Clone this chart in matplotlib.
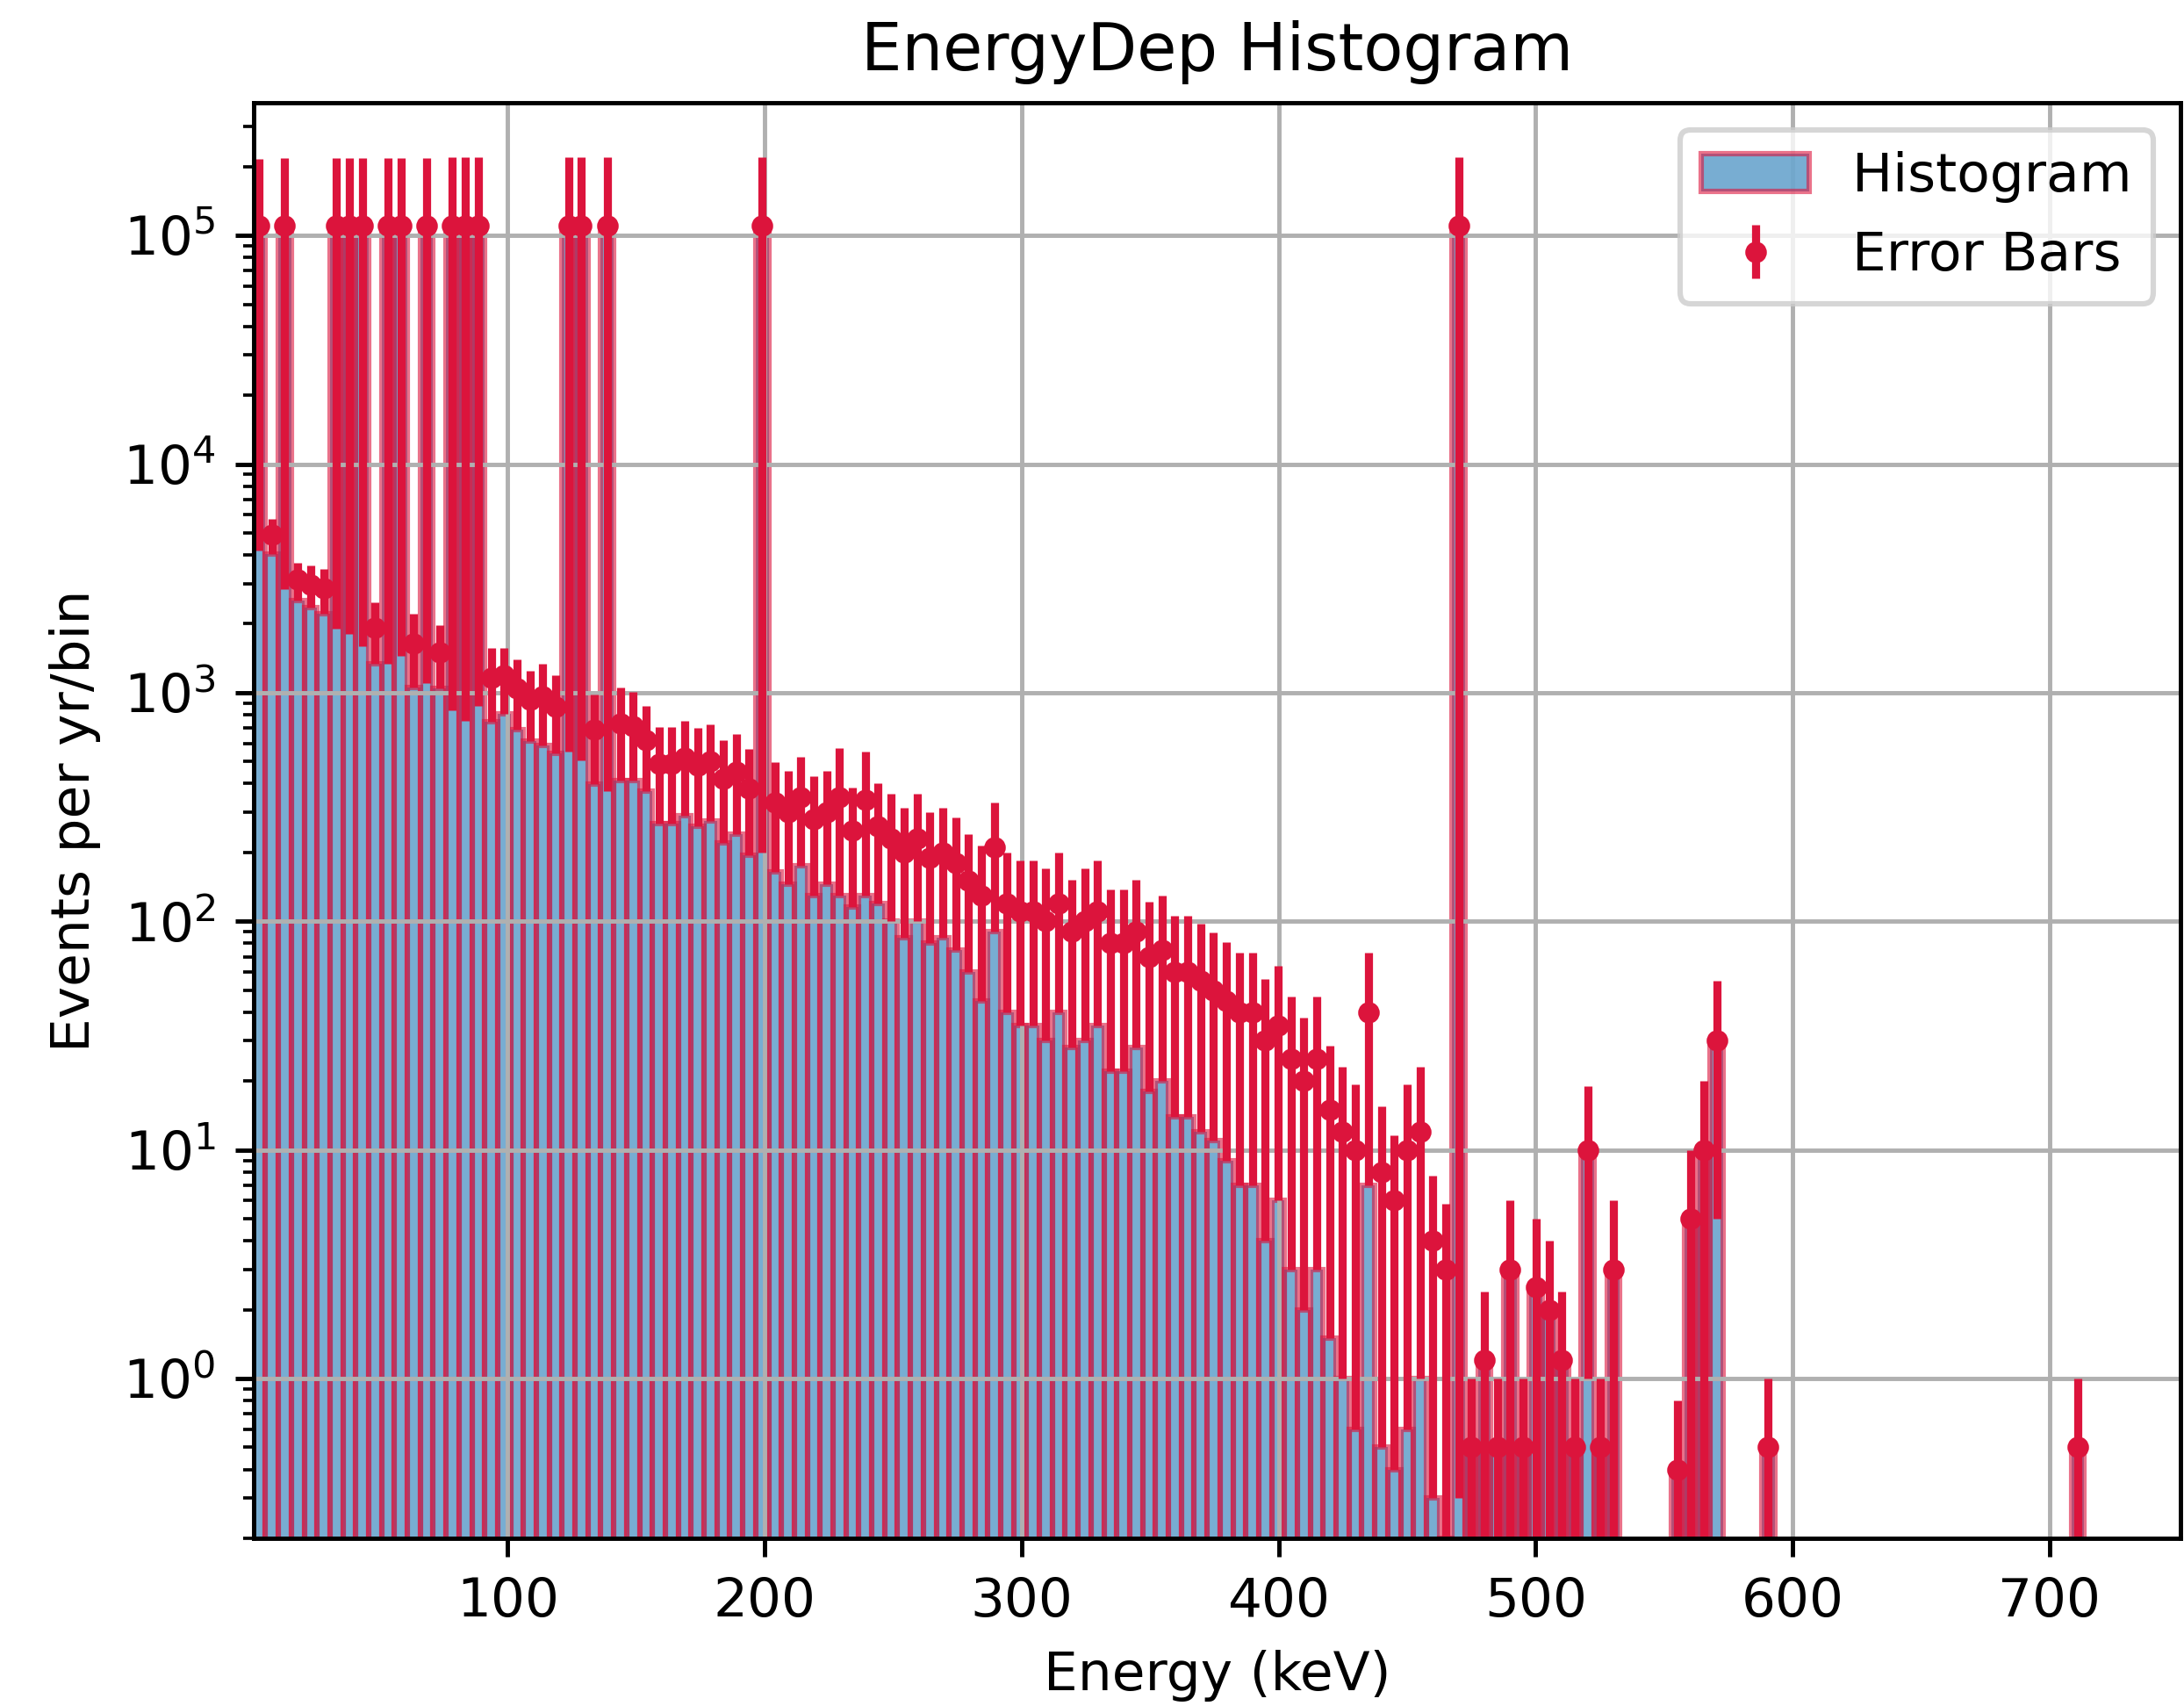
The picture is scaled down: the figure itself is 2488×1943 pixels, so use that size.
import matplotlib
matplotlib.use("Agg")
import matplotlib.pyplot as plt
import numpy as np

# binning (keV)
bin_start = 0.7
bin_width = 5.02
n_bins = 150

# peak bins (mono-energetic lines)
peak_bins = [0, 2, 6, 7, 8, 10, 11, 13, 15, 16, 17, 24, 25, 27, 39, 93]
peak_height = 1.1e5
peak_low = [4180, 2840, 1910, 1800, 1600, 1340, 1450, 1100, 836, 754, 873, 552, 506, 371, 200, 0.3]

# continuum: bar height, marker value, error (events per yr/bin)
bars = [0, 4050, 0, 2530, 2350, 2220, 0, 0, 0, 1340,
        0, 0, 1056, 0, 1040, 0, 0, 0, 743, 811,
        690, 613, 586, 545, 0, 0, 399, 0, 411, 411,
        371, 268, 268, 290, 260, 275, 220, 240, 195, 0,
        165, 145, 175, 130, 145, 130, 115, 130, 120, 100,
        85, 100, 80, 85, 75, 60, 45, 90, 40, 35,
        35, 30, 40, 28, 30, 35, 22, 22, 28, 18,
        20, 14, 14, 12, 11, 9, 7, 7, 4, 6,
        3, 2, 3, 1.5, 1, 0.6, 7, 0.5, 0.4, 0.6,
        1, 0.3, 0.2, 0, 0.5, 1.2, 0.5, 3, 0.5, 2.5,
        2, 1.2, 0.5, 10, 0.5, 3, 0, 0, 0, 0,
        0.4, 5, 10, 30, 0, 0, 0, 0.5, 0, 0,
        0, 0, 0, 0, 0, 0, 0, 0, 0, 0,
        0, 0, 0, 0, 0, 0, 0, 0, 0, 0,
        0, 0.5, 0, 0, 0, 0, 0, 0, 0, 0]
points = [0, 4910, 0, 3115, 2975, 2855, 0, 0, 0, 1915,
          0, 0, 1633, 0, 1505, 0, 0, 0, 1158, 1192,
          1045, 929, 963, 867, 0, 0, 690, 0, 734, 711,
          622, 489, 489, 520, 480, 500, 420, 450, 380, 0,
          330, 300, 350, 280, 300, 350, 250, 340, 260, 230,
          200, 230, 190, 200, 180, 150, 130, 210, 120, 110,
          110, 100, 120, 90, 100, 110, 80, 80, 90, 70,
          75, 60, 60, 55, 50, 45, 40, 40, 30, 35,
          25, 20, 25, 15, 12, 10, 40, 8, 6, 10,
          12, 4, 3, 0, 0.5, 1.2, 0.5, 3, 0.5, 2.5,
          2, 1.2, 0.5, 10, 0.5, 3, 0, 0, 0, 0,
          0.4, 5, 10, 30, 0, 0, 0, 0.5, 0, 0,
          0, 0, 0, 0, 0, 0, 0, 0, 0, 0,
          0, 0, 0, 0, 0, 0, 0, 0, 0, 0,
          0, 0.5, 0, 0, 0, 0, 0, 0, 0, 0]
errs = [0, 860, 0, 585, 625, 635, 0, 0, 0, 575,
        0, 0, 577, 0, 465, 0, 0, 0, 415, 381,
        355, 316, 377, 322, 0, 0, 291, 0, 323, 300,
        251, 221, 221, 230, 220, 225, 200, 210, 185, 0,
        165, 155, 175, 150, 155, 220, 135, 210, 140, 130,
        115, 130, 110, 115, 105, 90, 85, 120, 80, 75,
        75, 70, 80, 62, 70, 75, 58, 58, 62, 52,
        55, 46, 46, 43, 39, 36, 33, 33, 26, 29,
        22, 18, 22, 13.5, 11, 9.4, 33, 7.5, 5.6, 9.4,
        11, 3.7, 2.8, 0, 0.5, 1.2, 0.5, 3, 0.5, 2.5,
        2, 1.2, 0.5, 9, 0.5, 3, 0, 0, 0, 0,
        0.4, 5, 10, 25, 0, 0, 0, 0.5, 0, 0,
        0, 0, 0, 0, 0, 0, 0, 0, 0, 0,
        0, 0, 0, 0, 0, 0, 0, 0, 0, 0,
        0, 0.5, 0, 0, 0, 0, 0, 0, 0, 0]

bars = np.array(bars, dtype=float)
points = np.array(points, dtype=float)
errs = np.array(errs, dtype=float)
for k, lo in zip(peak_bins, peak_low):
    bars[k] = peak_height
    points[k] = peak_height
    errs[k] = peak_height - lo

edges = bin_start + bin_width * np.arange(n_bins + 1)
centers = 0.5 * (edges[:-1] + edges[1:])
has = points > 0

fig = plt.figure(figsize=(2488 / 442, 1943 / 442), dpi=442)
ax = fig.add_axes([0.116, 0.0983, 0.8824, 0.8414])

ax.errorbar(centers[has], points[has], yerr=errs[has], fmt='.', color='crimson',
            label='Error Bars')
ax.hist(centers, bins=edges, weights=bars, color='tab:blue', alpha=0.6,
        edgecolor='crimson', label='Histogram')

ax.set_yscale('log')
ax.set_xlim(1, 751)
ax.set_ylim(0.2, 3.8e5)
ax.grid(True)
ax.set_title('EnergyDep Histogram')
ax.set_xlabel('Energy (keV)')
ax.set_ylabel('Events per yr/bin')
ax.legend(loc='upper right')

fig.savefig('out.png', dpi=442)
